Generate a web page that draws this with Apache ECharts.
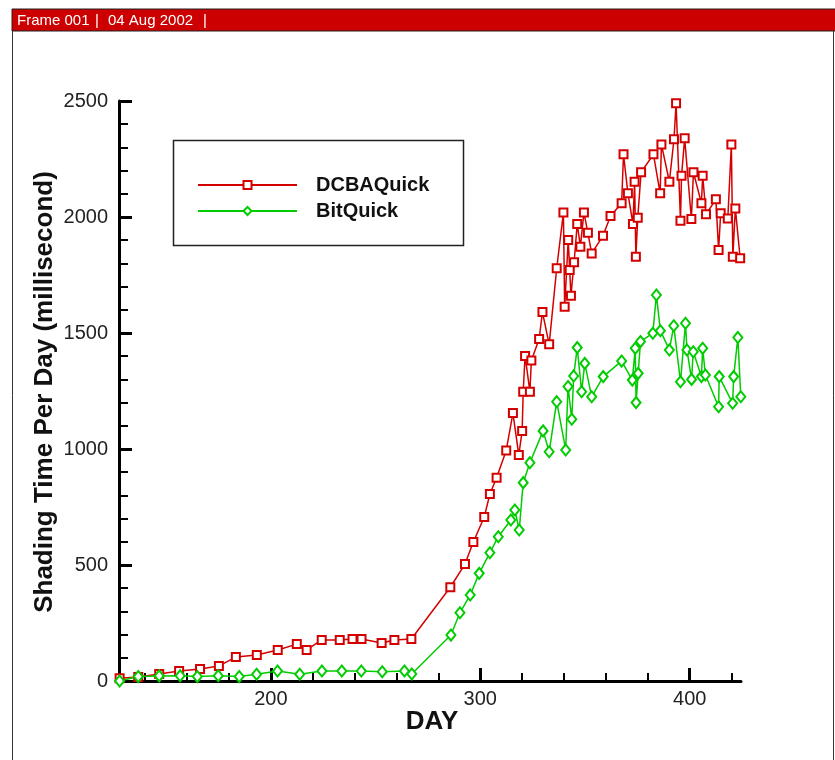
<!DOCTYPE html>
<html>
<head>
<meta charset="utf-8">
<script src="https://cdn.jsdelivr.net/npm/echarts@6/dist/echarts.min.js"></script>
<style>
  html, body { margin: 0; padding: 0; background: #fff; }
  #main { width: 835px; height: 760px; }
</style>
</head>
<body>
<div id="main"></div>
<script>
// values
var dcbaDay = [127.8, 136.7, 146.7, 156.2, 166.2, 175.2, 183.3, 193.3, 203.3, 212.4, 217.1, 224.3, 232.9, 239, 243.3, 252.9, 259, 267.1,
  285.7, 292.7, 296.7, 301.9, 304.6, 307.8, 312.4, 315.6, 318.4, 320, 320.5, 321.4, 323.7, 324.4, 328.1, 329.7, 332.9, 336.5,
  339.7, 340.3, 342, 342.7, 343.3, 344.8, 346.3, 347.8, 349.5, 351.4, 353.2, 358.6, 362.2, 367.5, 368.4, 370.5, 372.9, 373.7,
  374.3, 375.2, 376.8, 382.7, 385.9, 386.5, 390.3, 392.5, 393.5, 395.6, 396.1, 397.6, 400.8, 401.8, 405.6, 406.2, 407.8,
  412.5, 413.8, 414.8, 418.2, 419.9, 420.6, 421.8, 424.1];
var dcbaMs = [12, 17, 30, 43, 52, 65, 103, 112, 134, 159, 134, 177, 177, 181, 181, 164, 177, 181,
  404, 504, 599, 707, 806, 876, 994, 1155, 974, 1078, 1247, 1401, 1247, 1381, 1474, 1590, 1451, 1779,
  2019, 1613, 1901, 1772, 1661, 1805, 1970, 1872, 2019, 1932, 1843, 1919, 2004, 2059, 2270, 2102, 1970, 2152,
  1829, 1997, 2193, 2270, 2102, 2313, 2152, 2335, 2490, 1984, 2178, 2339, 1991, 2193, 2059, 2178, 2012,
  2076, 1858, 2016, 1994, 2313, 1829, 2037, 1822];

var bitDay = [127.8, 136.7, 146.7, 156.7, 164.9, 174.9, 184.9, 193.2, 203.2, 213.8, 224.4, 233.9, 243.2, 253.2, 263.8, 267.3,
  286, 290.3, 295.2, 299.5, 304.6, 308.6, 314.6, 316.5, 318.6, 320.5, 323.7, 330, 332.9, 336.5, 340.8, 341.9, 343.7, 344.6,
  346.3, 348.4, 349.9, 353.2, 358.7, 367.5, 372.6, 374, 374.4, 375.4, 376.5, 382.4, 384.1, 386, 390.3, 392.4, 395.6, 398,
  398.7, 400.9, 401.7, 405.6, 406.2, 407.5, 413.8, 414.1, 420.5, 421, 423, 424.4];
var bitMs = [0, 19, 22, 23, 19, 23, 19, 29, 43, 29, 43, 43, 43, 40, 43, 30,
  198, 294, 371, 464, 553, 622, 694, 737, 651, 855, 941, 1078, 988, 1204, 996, 1269, 1128, 1315,
  1437, 1247, 1369, 1225, 1312, 1379, 1297, 1434, 1200, 1326, 1463, 1499, 1664, 1510, 1427, 1531, 1290, 1542,
  1427, 1300, 1419, 1312, 1434, 1319, 1182, 1312, 1197, 1312, 1481, 1225];

var xTicks = [200, 300, 400];
var xMinorTicks = [140, 160, 180, 220, 240, 260, 280, 320, 340, 360, 380, 420];

var FONT = "'Liberation Sans', Arial, sans-serif";
var RED = '#d40000';
var GREEN = '#00cc00';

function pairs(xs, ys) {
  var out = [];
  for (var i = 0; i < xs.length; i++) out.push([xs[i], ys[i]]);
  return out;
}

var myChart = echarts.init(document.getElementById('main'));

var option = {
  animation: false,
  backgroundColor: '#fff',
  grid: { left: 119, right: 94, top: 101, bottom: 79 },
  legend: {
    orient: 'vertical',
    left: 197, top: 175,
    itemWidth: 99, itemHeight: 10, itemGap: 6,
    padding: 0,
    selectedMode: false,
    textStyle: { fontFamily: FONT, fontWeight: 'bold', fontSize: 20, color: '#111', padding: [0, 0, 0, 14] },
    data: ['DCBAQuick', 'BitQuick']
  },
  xAxis: [
    {
      type: 'value', min: 127.5, max: 424.5, position: 'bottom',
      axisLine: { show: true, lineStyle: { color: '#000', width: 3 } },
      axisTick: { show: true, inside: true, length: 13, lineStyle: { color: '#000', width: 3 }, customValues: xTicks },
      axisLabel: { fontFamily: FONT, fontSize: 20, color: '#222', margin: 8, customValues: xTicks },
      splitLine: { show: false }
    },
    {
      type: 'value', min: 127.5, max: 424.5, position: 'bottom',
      axisLine: { show: false },
      axisTick: { show: true, inside: true, length: 8, lineStyle: { color: '#000', width: 2 }, customValues: xMinorTicks },
      axisLabel: { show: false },
      splitLine: { show: false }
    }
  ],
  yAxis: {
    type: 'value', min: 0, max: 2500, interval: 500,
    axisLine: { show: true, lineStyle: { color: '#000', width: 3 } },
    axisTick: { show: true, inside: true, length: 13, lineStyle: { color: '#000', width: 3 } },
    minorTick: { show: true, splitNumber: 5, length: 9, lineStyle: { color: '#000', width: 2 } },
    axisLabel: { fontFamily: FONT, fontSize: 20, color: '#222', margin: 11, formatter: function (v) { return String(v); } },
    splitLine: { show: false }
  },
  graphic: [
    { type: 'rect', shape: { x: 12, y: 9, width: 830, height: 22 }, style: { fill: '#cc0000', stroke: '#222', lineWidth: 1 } },
    { type: 'line', shape: { x1: 12.5, y1: 31, x2: 12.5, y2: 760 }, style: { stroke: '#333', lineWidth: 1 } },
    { type: 'line', shape: { x1: 833.5, y1: 31, x2: 833.5, y2: 760 }, style: { stroke: '#333', lineWidth: 1 } },
    { type: 'text', x: 17, y: 21, style: { text: 'Frame 001', fill: '#fff', font: '15px ' + FONT, verticalAlign: 'middle' } },
    { type: 'text', x: 95, y: 21, style: { text: '|', fill: '#fff', font: '15px ' + FONT, verticalAlign: 'middle' } },
    { type: 'text', x: 108, y: 21, style: { text: '04 Aug 2002', fill: '#fff', font: '15px ' + FONT, verticalAlign: 'middle' } },
    { type: 'text', x: 203, y: 21, style: { text: '|', fill: '#fff', font: '15px ' + FONT, verticalAlign: 'middle' } },
    // legend frame
    { type: 'rect', shape: { x: 173.5, y: 140.5, width: 290, height: 105 }, style: { fill: 'none', stroke: '#222', lineWidth: 1.5 } },
    // axis titles
    { type: 'text', x: 45, y: 392, rotation: Math.PI / 2,
      style: { text: 'Shading Time Per Day (millisecond)', fill: '#111', font: 'bold 26px ' + FONT, align: 'center', verticalAlign: 'middle' } },
    { type: 'text', x: 432, y: 722,
      style: { text: 'DAY', fill: '#111', font: 'bold 26px ' + FONT, align: 'center', verticalAlign: 'middle' } }
  ],
  series: [
    {
      name: 'DCBAQuick', type: 'line',
      data: pairs(dcbaDay, dcbaMs),
      symbol: 'emptyRect', symbolSize: 8,
      lineStyle: { color: RED, width: 1.5 },
      itemStyle: { color: RED, borderWidth: 1.5 }
    },
    {
      name: 'BitQuick', type: 'line',
      data: pairs(bitDay, bitMs),
      symbol: 'emptyDiamond', symbolSize: [9, 11],
      lineStyle: { color: GREEN, width: 1.5 },
      itemStyle: { color: GREEN, borderWidth: 1.5 }
    }
  ]
};

myChart.setOption(option);
window.onresize = myChart.resize;
</script>
</body>
</html>
